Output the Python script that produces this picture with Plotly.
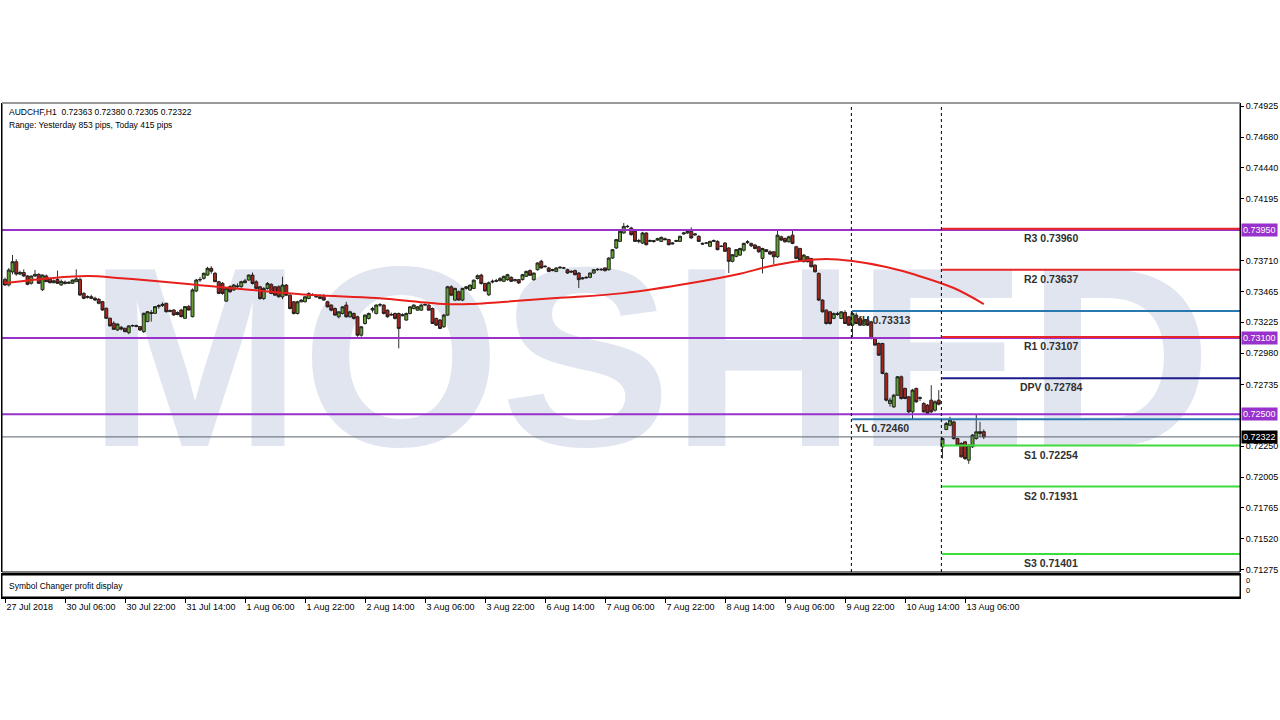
import plotly.graph_objects as go

# ---------------- data (prices in points, 1 point = 0.00001) ----------------
SCALE = 1e-5

open_pts = [
    # 27 Jul 14:00 ...
    73561,73517,73620,73700,73603,73615,73588,73530,73588,73600,
    73480,73588,73565,73535,73560,73518,73540,73530,73530,73543,
    73561,73451,73420,73425,73412,73404,73386,73334,73255,73216,
    73163,73184,73176,73142,73195,73198,73190,73150,73229,73300,
    73294,73347,73355,73373,73307,73320,73285,73320,73255,73347,
    73268,73470,73556,73569,73595,73648,73609,73543,73530,73390,
    73504,73478,73510,73504,73535,73556,
    73595,73542,73503,73411,73490,73522,73503,73503,73424,73516,
    73437,73385,73293,73385,73385,73411,73440,73430,73411,73424,
    73385,73359,73332,73267,73293,73359,73267,73293,73267,73122,
    73214,73254,73320,73293,73359,73359,73319,73280,73293,73293,
    73275,73241,73293,73332,73319,73319,73359,73359,73332,73254,
    73241,73188,73280,73503,73398,73464,73398,73490,73477,73490,
    73568,73595,73529,73440,
    73540,73546,73551,73546,73559,73577,73550,73559,73559,73585,
    73630,73559,73637,73703,73660,73651,73630,73624,73651,73650,
    73637,73618,73630,73611,73565,73572,73577,73611,73637,73640,
    73651,73637,73729,73808,73860,73926,73975,73965,73939,73860,
    73847,73926,73860,73866,73870,73860,73881,73874,73840,73860,
    73860,73918,73926,73939,73910,73900,73845,73847,73821,73860,
    73860,73821,73847,73808,73703,73742,
    73752,73790,73850,73844,73831,73818,73726,73795,73778,73778,
    73739,73896,73883,73857,73909,73818,73804,73700,73739,73726,
    73673,73608,73398,73319,73306,73254,73293,73254,73301,73267,
    73201,73280,73254,73201,73240,73227,73096,73057,73057,72821,
    72585,72558,72650,72795,72703,72637,72519,72703,72625,72585,
    72572,72611,72532,72611,
    72244,72380,72414,72440,72309,72270,72283,72139,72244,72309,
    72349,72363,
]
high_pts = [
    73575,73650,73753,73720,73630,73640,73595,73590,73635,73610,
    73600,73600,73575,73560,73630,73560,73552,73545,73560,73640,
    73575,73460,73435,73440,73425,73415,73392,73340,73262,73232,
    73215,73195,73182,73200,73205,73205,73195,73300,73312,73320,
    73350,73365,73380,73378,73325,73325,73310,73330,73350,73360,
    73490,73565,73580,73615,73660,73665,73620,73550,73540,73500,
    73515,73525,73530,73550,73565,73600,
    73615,73555,73510,73500,73540,73530,73508,73515,73582,73525,
    73445,73390,73392,73405,73430,73460,73452,73440,73445,73445,
    73392,73365,73340,73310,73350,73385,73315,73300,73275,73195,
    73285,73300,73345,73365,73375,73365,73325,73300,73300,73300,
    73295,73300,73350,73365,73350,73370,73372,73365,73340,73260,
    73250,73290,73510,73515,73495,73475,73495,73510,73520,73560,
    73600,73605,73535,73545,
    73560,73565,73580,73590,73605,73585,73565,73565,73605,73630,
    73640,73615,73695,73716,73672,73660,73645,73656,73665,73660,
    73645,73632,73638,73618,73580,73585,73615,73642,73648,73650,
    73656,73735,73800,73880,73945,74005,73990,73975,73945,73880,
    73935,73932,73875,73872,73888,73898,73890,73880,73852,73872,
    73905,73935,73950,73970,73925,73908,73850,73855,73865,73875,
    73868,73830,73855,73815,73760,73800,
    73810,73850,73870,73850,73840,73825,73810,73800,73790,73785,
    73949,73905,73890,73905,73955,73825,73810,73760,73745,73730,
    73680,73615,73405,73325,73312,73300,73306,73310,73319,73275,
    73313,73300,73270,73250,73265,73235,73105,73065,73062,72830,
    72630,72660,72800,72805,72710,72645,72700,72710,72640,72595,
    72580,72729,72610,72690,
    72320,72440,72480,72450,72315,72280,72290,72265,72345,72500,
    72440,72380,
]
low_pts = [
    73510,73505,73600,73590,73595,73580,73515,73520,73580,73525,
    73470,73540,73530,73530,73525,73510,73520,73525,73525,73540,
    73430,73405,73410,73405,73390,73365,73315,73250,73190,73165,
    73155,73160,73145,73130,73188,73185,73155,73140,73225,73229,
    73290,73330,73345,73300,73305,73275,73278,73262,73250,73315,
    73262,73460,73540,73560,73590,73605,73540,73445,73440,73385,
    73455,73470,73495,73495,73530,73550,
    73520,73480,73400,73398,73480,73445,73430,73418,73405,73430,
    73325,73285,73285,73380,73380,73405,73430,73420,73405,73395,
    73340,73310,73275,73255,73285,73260,73260,73245,73110,73110,
    73205,73245,73300,73285,73345,73285,73260,73275,73245,73018,
    73270,73235,73285,73325,73315,73315,73350,73315,73210,73195,
    73170,73180,73275,73430,73390,73395,73390,73480,73470,73485,
    73560,73520,73465,73430,
    73530,73538,73545,73540,73550,73540,73545,73525,73553,73580,
    73588,73550,73630,73645,73655,73618,73625,73618,73645,73642,
    73605,73612,73592,73493,73560,73568,73570,73605,73628,73630,
    73622,73630,73722,73800,73855,73920,73968,73905,73855,73845,
    73840,73828,73855,73850,73865,73855,73868,73828,73835,73855,
    73855,73912,73920,73880,73905,73855,73835,73840,73815,73855,
    73790,73815,73778,73611,73695,73735,
    73745,73780,73840,73815,73798,73770,73608,73775,73752,73680,
    73730,73862,73850,73850,73838,73720,73705,73695,73695,73655,
    73615,73390,73300,73205,73205,73248,73275,73248,73210,73195,
    73100,73208,73195,73195,73195,73090,73040,72960,72815,72600,
    72560,72550,72645,72615,72618,72510,72460,72590,72605,72512,
    72500,72510,72520,72570,
    72152,72375,72405,72300,72250,72160,72140,72110,72235,72300,
    72320,72305,
]
close_pts = [
    73517,73635,73700,73603,73615,73588,73522,73588,73600,73530,
    73595,73543,73535,73550,73530,73545,73530,73538,73556,73565,
    73438,73412,73425,73412,73399,73373,73320,73255,73195,73168,
    73210,73170,73150,73195,73198,73192,73163,73294,73307,73294,
    73347,73355,73365,73307,73315,73281,73300,73268,73347,73320,
    73478,73556,73560,73609,73648,73625,73543,73451,73451,73491,
    73464,73517,73504,73543,73550,73595,
    73529,73490,73411,73490,73529,73450,73437,73424,73516,73437,
    73332,73293,73385,73398,73424,73450,73437,73424,73424,73398,
    73345,73319,73280,73306,73345,73267,73306,73254,73122,73188,
    73280,73293,73332,73359,73362,73293,73267,73285,73254,73175,
    73282,73293,73345,73359,73345,73359,73364,73319,73214,73201,
    73175,73280,73503,73437,73490,73398,73490,73503,73516,73555,
    73590,73529,73470,73535,
    73546,73551,73567,73585,73598,73546,73559,73533,73598,73624,
    73593,73611,73690,73651,73664,73624,73637,73651,73656,73651,
    73611,73624,73598,73559,73572,73577,73611,73637,73640,73637,
    73630,73729,73795,73874,73939,73978,73978,73913,73860,73866,
    73926,73834,73866,73860,73881,73892,73874,73834,73847,73866,
    73900,73926,73939,73887,73918,73860,73839,73847,73860,73866,
    73795,73821,73782,73703,73755,73795,
    73804,73844,73857,73825,73804,73778,73804,73780,73760,73739,
    73909,73870,73857,73896,73844,73726,73713,73752,73700,73660,
    73621,73398,73306,73214,73214,73293,73285,73306,73214,73201,
    73293,73214,73201,73240,73201,73096,73044,72965,72821,72611,
    72611,72650,72795,72624,72624,72519,72690,72598,72630,72519,
    72506,72519,72598,72579,
    72309,72427,72454,72309,72257,72165,72152,72257,72336,72362,
    72363,72322,
]

# moving average (bar index, price)
ma_bar = [0, 12, 22, 31, 40, 52, 65, 82, 99, 117, 124, 131, 147, 165, 183,
          196, 203, 212, 219, 226, 235, 243, 253, 261]
ma_val = [0.73532, 0.73570, 0.73587, 0.73570, 0.73548, 0.73515, 0.73480,
          0.73438, 0.73414, 0.73367, 0.73367, 0.73380, 0.73414, 0.73453,
          0.73532, 0.73605, 0.73658, 0.73705, 0.73721, 0.73705, 0.73658,
          0.73595, 0.73493, 0.73367]

# time axis
time_tick_bars = [0, 16, 32, 48, 64, 80, 96, 112, 128, 144, 160, 176, 192,
                  208, 224, 240, 256]
time_tick_labels = ["27 Jul 2018", "30 Jul 06:00", "30 Jul 22:00", "31 Jul 14:00",
                    "1 Aug 06:00", "1 Aug 22:00", "2 Aug 14:00", "3 Aug 06:00",
                    "3 Aug 22:00", "6 Aug 14:00", "7 Aug 06:00", "7 Aug 22:00",
                    "8 Aug 14:00", "9 Aug 06:00", "9 Aug 22:00", "10 Aug 14:00",
                    "13 Aug 06:00"]
day_separator_bars = [226, 250]   # 10 Aug 00:00, 13 Aug 00:00

# price axis
price_ticks = [0.74925, 0.74680, 0.74440, 0.74195, 0.73710, 0.73465, 0.73225,
               0.72980, 0.72735, 0.72250, 0.72005, 0.71765, 0.71520, 0.71275]

# user horizontal lines
purple_levels = [0.73950, 0.73100, 0.72500]
bid_price = 0.72322

# pivot levels (drawn from today's first bar)
pivot_names = ["R3", "R2", "R1", "DPV", "S1", "S2", "S3"]
pivot_values = [0.73960, 0.73637, 0.73107, 0.72784, 0.72254, 0.71931, 0.71401]
pivot_colors = ["#e8262a", "#e8262a", "#e8262a", "#1c1c8c", "#3cdc3c", "#3cdc3c", "#3cdc3c"]
today_start_bar = 250

# yesterday high / low (drawn from yesterday's first bar)
yday_names = ["YH", "YL"]
yday_values = [0.73313, 0.72460]
yday_start_bar = 226

header_symbol = "AUDCHF,H1"
range_text = "Range: Yesterday 853 pips, Today 415 pips"
watermark = "MOSHED"

# ---------------- figure ----------------
bars = list(range(len(open_pts)))
opens = [v * SCALE for v in open_pts]
highs = [max(h, o, c) * SCALE for h, o, c in zip(high_pts, open_pts, close_pts)]
lows = [min(l, o, c) * SCALE for l, o, c in zip(low_pts, open_pts, close_pts)]
closes = [v * SCALE for v in close_pts]

X_MIN, X_MAX = -0.8, 329.33
Y_MIN, Y_MAX = 0.712592, 0.749486
PLOT_H = 494.0
MAIN_BOTTOM = 25.0 / PLOT_H
STRIP_TOP = 22.0 / PLOT_H
FONT = "Liberation Sans"
PURPLE = "#9932CC"

fig = go.Figure()

# watermark on an underlying subplot so it sits behind the candles
fig.add_trace(go.Scatter(
    x=[172], y=[0.405], mode="text", text=[watermark],
    textfont=dict(family=FONT, size=256, color="#e1e5ef", weight="bold"),
    xaxis="x", yaxis="y3", hoverinfo="skip", showlegend=False))

fig.add_trace(go.Candlestick(
    x=bars, open=opens, high=highs, low=lows, close=closes,
    xaxis="x", yaxis="y",
    increasing=dict(line=dict(color="#1a1a1a", width=0.9), fillcolor="#62a032"),
    decreasing=dict(line=dict(color="#1a1a1a", width=0.9), fillcolor="#a3261f"),
    whiskerwidth=0, hoverinfo="skip", showlegend=False))

fig.add_trace(go.Scatter(
    x=ma_bar, y=ma_val, mode="lines", xaxis="x", yaxis="y",
    line=dict(color="#e8201c", width=2, shape="spline"),
    hoverinfo="skip", showlegend=False))

fig.add_trace(go.Scatter(x=[0], y=[0.5], mode="markers", marker=dict(opacity=0),
                         xaxis="x", yaxis="y2", hoverinfo="skip", showlegend=False))

shapes = []
# horizontal levels
for v in purple_levels:
    shapes.append(dict(type="line", xref="x", yref="y", x0=X_MIN, x1=X_MAX, y0=v, y1=v,
                       line=dict(color=PURPLE, width=2)))
shapes.append(dict(type="line", xref="x", yref="y", x0=X_MIN, x1=X_MAX, y0=bid_price,
                   y1=bid_price, line=dict(color="#5a6470", width=1)))
for v, col in zip(pivot_values, pivot_colors):
    shapes.append(dict(type="line", xref="x", yref="y", x0=today_start_bar - 0.1, x1=X_MAX,
                       y0=v, y1=v, line=dict(color=col, width=2)))
for v in yday_values:
    shapes.append(dict(type="line", xref="x", yref="y", x0=yday_start_bar - 0.1, x1=X_MAX,
                       y0=v, y1=v, line=dict(color="#2a78b0", width=2)))
# day separators
for b in day_separator_bars:
    shapes.append(dict(type="line", xref="x", yref="paper", x0=b - 0.3, x1=b - 0.3,
                       y0=MAIN_BOTTOM, y1=1, line=dict(color="black", width=1, dash="dot")))
# window frames
shapes.append(dict(type="rect", xref="paper", yref="paper", x0=0, x1=1, y0=MAIN_BOTTOM, y1=1,
                   line=dict(color="black", width=1)))
shapes.append(dict(type="line", xref="paper", yref="paper", x0=0, x1=1, y0=1, y1=1,
                   line=dict(color="#9a9a9a", width=2)))
shapes.append(dict(type="rect", xref="paper", yref="paper", x0=0, x1=1, y0=0, y1=STRIP_TOP,
                   line=dict(color="black", width=1)))

annotations = []
# price tags
for v in purple_levels:
    annotations.append(dict(xref="paper", x=1, xanchor="left", xshift=1, yref="y", y=v,
                            yanchor="middle", text=f"{v:.5f}", showarrow=False,
                            bgcolor=PURPLE, borderpad=1,
                            font=dict(family=FONT, size=9, color="white")))
annotations.append(dict(xref="paper", x=1, xanchor="left", xshift=1, yref="y", y=bid_price,
                        yanchor="middle", text=f"{bid_price:.5f}", showarrow=False,
                        bgcolor="black", borderpad=1,
                        font=dict(family=FONT, size=9, color="white")))
# pivot labels
for n, v in zip(pivot_names, pivot_values):
    annotations.append(dict(xref="x", x=279, xanchor="center", yref="y", y=v,
                            yanchor="top", yshift=-1, text=f"<b>{n} {v:.5f}</b>",
                            showarrow=False,
                            font=dict(family=FONT, size=10.5, color="#303030")))
for n, v in zip(yday_names, yday_values):
    annotations.append(dict(xref="x", x=yday_start_bar, xanchor="left", xshift=0, yref="y",
                            y=v, yanchor="top", yshift=-1, text=f"<b>{n} {v:.5f}</b>",
                            showarrow=False,
                            font=dict(family=FONT, size=10.5, color="#303030")))
# header
last = len(open_pts) - 1
header = (f"{header_symbol}  {opens[last]:.5f} {highs[last]:.5f} "
          f"{lows[last]:.5f} {closes[last]:.5f}")
annotations.append(dict(xref="paper", x=0, xshift=5, xanchor="left", yref="paper", y=1,
                        yanchor="top", yshift=-2, text=header, showarrow=False,
                        font=dict(family=FONT, size=8.5, color="black")))
annotations.append(dict(xref="paper", x=0, xshift=5, xanchor="left", yref="paper", y=1,
                        yanchor="top", yshift=-15, text=range_text, showarrow=False,
                        font=dict(family=FONT, size=8.5, color="black")))
annotations.append(dict(xref="paper", x=0, xshift=5, xanchor="left", yref="paper",
                        y=STRIP_TOP / 2, yanchor="middle", text="Symbol Changer profit display",
                        showarrow=False, font=dict(family=FONT, size=8.5, color="black")))
for dy in (0.75, 0.3):
    annotations.append(dict(xref="paper", x=1, xshift=4, xanchor="left", yref="paper",
                            y=STRIP_TOP * dy, yanchor="middle", text="0", showarrow=False,
                            font=dict(family=FONT, size=7.5, color="black")))

fig.update_layout(
    width=1280, height=720, autosize=False,
    margin=dict(l=2, r=40, t=103, b=123, pad=0),
    paper_bgcolor="white", plot_bgcolor="white",
    showlegend=False, hovermode=False,
    boxgap=0.2, boxgroupgap=0,
    xaxis=dict(domain=[0, 1], range=[X_MIN, X_MAX], anchor="y2",
               showgrid=False, zeroline=False, rangeslider=dict(visible=False),
               tickmode="array", tickvals=time_tick_bars, ticktext=time_tick_labels,
               ticks="outside", ticklen=4, tickcolor="black", tickangle=0,
               ticklabelposition="outside right",
               tickfont=dict(family=FONT, size=9, color="black"),
               showline=True, linecolor="black", linewidth=2, mirror=True,
               fixedrange=True),
    yaxis3=dict(domain=[MAIN_BOTTOM, 1], range=[0, 1], visible=False, anchor="x",
                fixedrange=True),
    yaxis=dict(domain=[MAIN_BOTTOM, 1], range=[Y_MIN, Y_MAX], anchor="x",
               overlaying="y3", side="right",
               showgrid=False, zeroline=False, tickmode="array", tickvals=price_ticks,
               tickformat=".5f", ticks="outside", ticklen=3, tickcolor="black",
               tickfont=dict(family=FONT, size=9, color="black"),
               showline=True, linecolor="black", linewidth=1, mirror=True,
               fixedrange=True),
    yaxis2=dict(domain=[0, STRIP_TOP], range=[0, 1], anchor="x", side="right",
                showgrid=False, zeroline=False, showticklabels=False, ticks="",
                showline=True, linecolor="black", mirror=True, fixedrange=True),
    shapes=shapes,
    annotations=annotations,
)

fig.write_html("out.html", config={"displayModeBar": False},
               post_script="document.body.style.margin='0px';")
